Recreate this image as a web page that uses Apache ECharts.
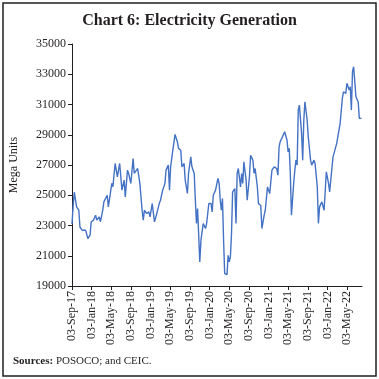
<!DOCTYPE html>
<html><head><meta charset="utf-8">
<script src="https://cdn.jsdelivr.net/npm/echarts@6/dist/echarts.min.js"></script>
<style>html,body{margin:0;padding:0;background:#fff}#c{width:379px;height:379px}</style>
</head><body><div id="c"></div>
<script>
// Weekly observations: weeks elapsed since 03-Sep-2017, and generation in Mega Units
const weeks = [0,1,2,4,6,7,9,12,14,16,17,19,21,22,24,25,27,28,31,32,35,36,38,40,42,44,46,47,49,50,52,54,55,58,60,62,63,64,66,68,69,71,73,75,77,78,80,82,83,85,86,87,88,89,91,93,94,96,97,99,100,102,103,105,106,108,109,110,111,113,114,116,118,119,121,123,124,125,127,129,130,131,132,133,134,135,136,137,138,139,140,141,142,144,145,146,147,149,150,151,152,154,155,157,158,160,161,162,164,165,167,168,170,171,173,175,177,179,181,182,183,184,186,187,188,190,191,192,193,194,196,197,198,199,200,201,203,204,205,206,208,209,211,212,214,215,217,218,219,221,223,225,227,228,230,231,234,237,239,240,242,243,245,246,247,248,249,251,252,253,254,256];
const generation = [23100,24300,25200,24230,24010,22900,22690,22690,22140,22360,23240,23350,23680,23350,23570,23250,24010,24560,25000,24230,25780,25560,27100,26220,27100,25340,26000,24890,26660,26440,25780,27430,26440,26770,25780,24010,23350,24010,23790,23900,23570,24450,23240,23790,24450,24670,25340,25780,26660,26990,25340,26880,27430,27980,29020,28540,28100,27980,26880,27100,26000,25120,26440,27540,26880,26440,24670,23130,24120,20590,22030,23130,22800,23130,24450,24450,23900,25000,25340,26110,25780,24670,24010,24780,22030,19820,19710,19750,21030,20590,20920,22470,25220,25440,23130,26440,26770,25550,26440,25780,27210,26000,24670,26220,27650,27320,26440,26770,25550,24450,24340,22800,23680,24010,25550,25110,26660,26880,26770,26330,28200,28540,28860,28980,29200,28650,27870,28100,26440,23680,25780,26660,27320,26990,30630,30960,29090,27320,29970,31180,29970,28860,27320,26990,27320,27100,25550,23130,24230,24560,24010,26550,25780,25220,26770,27540,28430,29750,31400,31840,31730,32400,31950,32170,30630,33170,33500,31510,31510,31180,30080,30080];
const startDate = [2017, 8, 3];          // 03-Sep-2017
const monthNames = ['Jan','Feb','Mar','Apr','May','Jun','Jul','Aug','Sep','Oct','Nov','Dec'];
const yTicks = {min: 19000, max: 35000, step: 2000};
const xMonths = {min: 0, max: 59, step: 4};   // months after 03-Sep-17

function monthIndex(w) {
  const t = Date.UTC(startDate[0], startDate[1], startDate[2]) + w * 7 * 86400000;
  const d = new Date(t);
  const y = d.getUTCFullYear(), mo = d.getUTCMonth(), day = d.getUTCDate();
  const dim = new Date(Date.UTC(y, mo + 1, 0)).getUTCDate();
  return (y - startDate[0]) * 12 + mo - startDate[1] + (day - startDate[2]) / dim;
}
function monthLabel(m) {
  const k = startDate[1] + Math.round(m);
  const y = startDate[0] + Math.floor(k / 12);
  return '03-' + monthNames[k % 12] + '-' + String(y).slice(2);
}
const seriesData = weeks.map((w, i) => [monthIndex(w), generation[i]]);

const chart = echarts.init(document.getElementById('c'), null, {renderer: 'canvas'});
const F = '"Liberation Serif", "DejaVu Serif", serif';
chart.setOption({
  animation: false,
  backgroundColor: '#fff',
  title: {
    text: 'Chart 6: Electricity Generation',
    left: 'center', top: 8,
    textStyle: {fontFamily: F, fontSize: 16, fontWeight: 'bold', color: '#231f20'}
  },
  grid: {left: 72, right: 17, top: 44, bottom: 93, containLabel: false},
  xAxis: {
    type: 'value', min: xMonths.min, max: xMonths.max, interval: xMonths.step,
    axisLine: {onZero: false, lineStyle: {color: '#231f20', width: 1}},
    axisTick: {show: true, length: 4, lineStyle: {color: '#231f20'}},
    splitLine: {show: false},
    axisLabel: {rotate: 90, margin: 5, fontFamily: F, fontSize: 12, color: '#231f20',
      showMaxLabel: false,
      formatter: v => monthLabel(v)}
  },
  yAxis: {
    type: 'value', min: yTicks.min, max: yTicks.max, interval: yTicks.step,
    name: 'Mega Units', nameLocation: 'middle', nameGap: 52,
    nameTextStyle: {fontFamily: F, fontSize: 12, color: '#231f20'},
    axisLine: {show: true, lineStyle: {color: '#231f20', width: 1}},
    axisTick: {show: true, length: 4, lineStyle: {color: '#231f20'}},
    splitLine: {show: false},
    axisLabel: {margin: 6, fontFamily: F, fontSize: 12, color: '#231f20',
      formatter: v => String(v)}
  },
  series: [{
    type: 'line', data: seriesData, showSymbol: false, smooth: false,
    lineStyle: {color: '#4472c4', width: 1.4}
  }],
  graphic: [
    {type: 'rect', shape: {x: 3, y: 3, width: 373, height: 373},
     style: {fill: 'none', stroke: '#231f20', lineWidth: 1.5}, silent: true},
    {type: 'text', left: 13, top: 356,
     style: {text: '{b|Sources:} POSOCO; and CEIC.', font: '11px ' + F, fill: '#231f20',
       rich: {b: {fontWeight: 'bold', fontFamily: F, fontSize: 11, fill: '#231f20'}}}}
  ]
});
</script></body></html>
